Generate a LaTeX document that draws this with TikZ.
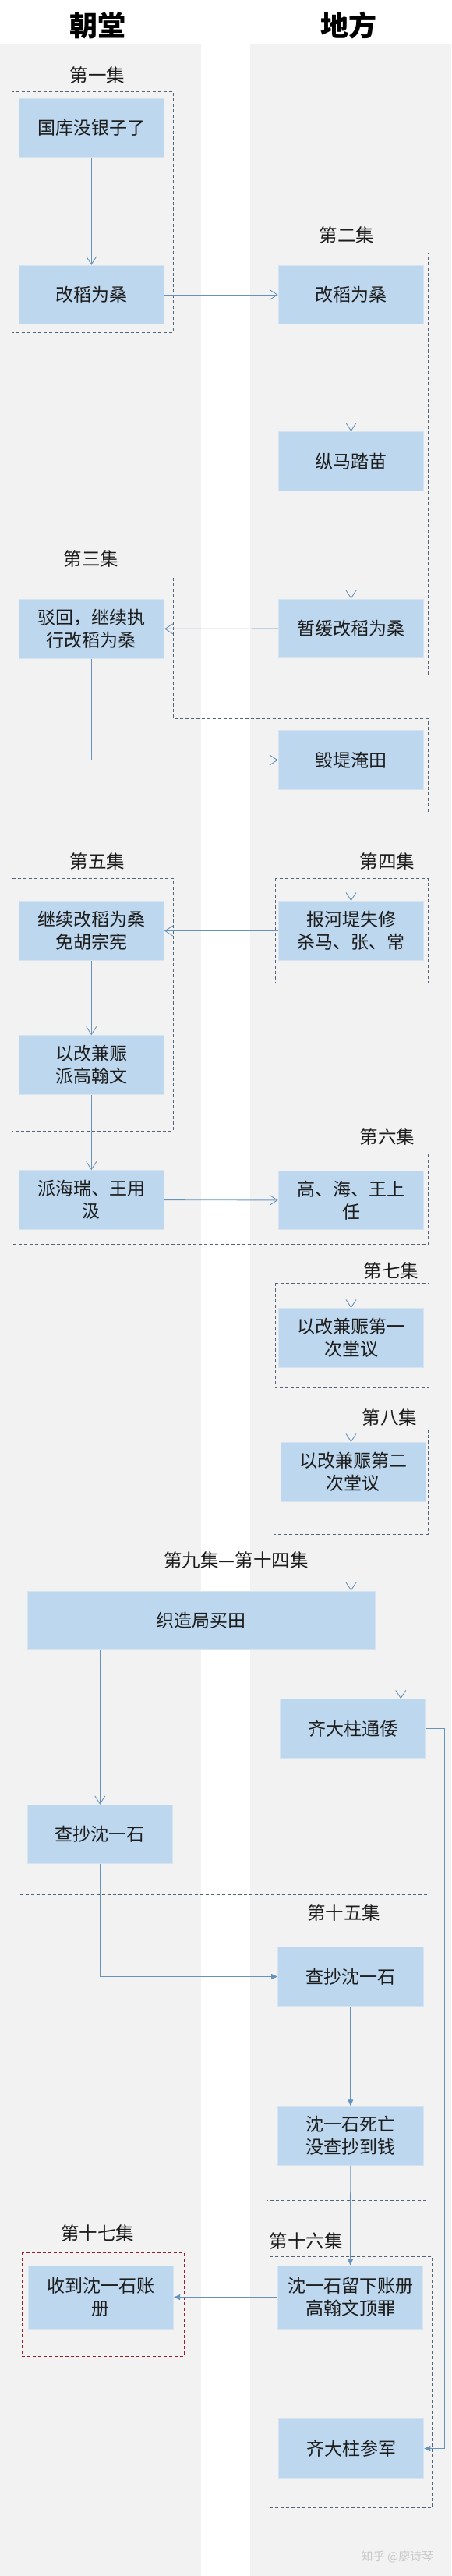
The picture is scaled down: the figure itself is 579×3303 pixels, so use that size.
\documentclass[tikz,border=0pt]{standalone}
\usepackage{fontspec}
\newfontfamily\cjk{Noto Sans CJK SC}
\usetikzlibrary{arrows.meta}
\definecolor{band}{RGB}{242,242,242}
\definecolor{boxfill}{RGB}{189,215,238}
\definecolor{boxedge}{RGB}{214,228,242}
\definecolor{link}{RGB}{102,146,190}
\definecolor{frame}{RGB}{84,100,118}
\definecolor{redframe}{RGB}{150,30,45}
\definecolor{ink}{RGB}{28,28,28}
\tikzset{
  stepbox/.style={fill=boxfill, draw=boxedge, line width=1pt, inner sep=0pt,
    minimum width=186.5pt, minimum height=75.5pt, align=center, text=ink,
    font=\cjk\fontsize{23}{29}\selectfont},
  eplabel/.style={text=ink, inner sep=0pt, font=\cjk\fontsize{23.5}{28}\selectfont},
  coltitle/.style={text=black, inner sep=0pt, font=\cjk\bfseries\fontsize{36}{40}\selectfont},
  grp/.style={draw=frame, line width=0.9pt, dash pattern=on 4pt off 3pt},
  redgrp/.style={draw=redframe, line width=0.9pt, dash pattern=on 4pt off 3pt},
  arr/.style={draw=link, line width=0.9pt, -{Straight Barb[length=10pt,width=13pt]}},
  farr/.style={draw=link, line width=0.9pt, -{Triangle[length=8pt,width=7pt]}},
}
\begin{document}
\begin{tikzpicture}[x=1pt,y=-1pt]
\useasboundingbox (0,0) rectangle (579,3303);
\fill[white] (0,0) rectangle (579,3303);
\fill[band] (0,56) rectangle (258,3303);
\fill[band] (321,56) rectangle (579,3303);

% titles
\node[coltitle] (t1) at (125,33) {朝堂};
\node[coltitle] (t2) at (447,33) {地方};

% group frames
\draw[grp] (15,117) rectangle (222,426);
\draw[grp] (342,324) rectangle (549.5,865);
\draw[grp] (15,738) -- (222,738) -- (222,921) -- (549.5,921) -- (549.5,1042) -- (15,1042) -- cycle;
\draw[grp] (353,1126) rectangle (549.5,1260);
\draw[grp] (15,1126) rectangle (222,1450);
\draw[grp] (15,1478) rectangle (549.5,1595);
\draw[grp] (353,1645) rectangle (550,1779);
\draw[grp] (351,1833) rectangle (549,1967);
\draw[grp] (24.7,2024) rectangle (550,2429);
\draw[grp] (342,2469) rectangle (550,2821);
\draw[grp] (346,2893) rectangle (554.7,3215);
\draw[redgrp] (28.4,2888) rectangle (236,3021);

% episode labels
\node[eplabel] (l1) at (125,97) {第一集};
\node[eplabel] (l2) at (445,302) {第二集};
\node[eplabel] (l3) at (117,717) {第三集};
\node[eplabel] (l4) at (497,1105) {第四集};
\node[eplabel] (l5) at (125,1105) {第五集};
\node[eplabel] (l6) at (497,1458) {第六集};
\node[eplabel] (l7) at (502,1630) {第七集};
\node[eplabel] (l8) at (500,1817) {第八集};
\node[eplabel] (l9) at (303,2000) {第九集—第十四集};
\node[eplabel] (l15) at (441,2452) {第十五集};
\node[eplabel] (l16) at (392.5,2873) {第十六集};
\node[eplabel] (l17) at (125,2863) {第十七集};

% nodes
\node[stepbox] (n1) at (117.25,164) {国库没银子了};
\node[stepbox] (n2) at (117.25,378) {改稻为桑};
\node[stepbox] (n3) at (450.5,378) {改稻为桑};
\node[stepbox] (n4) at (450.5,591.5) {纵马踏苗};
\node[stepbox] (n5) at (450.5,806) {暂缓改稻为桑};
\node[stepbox] (n6) at (117.25,806.5) {驳回，继续执\\行改稻为桑};
\node[stepbox] (n7) at (450.5,974.5) {毁堤淹田};
\node[stepbox] (n8) at (450.5,1193.5) {报河堤失修\\杀马、张、常};
\node[stepbox] (n9) at (117.25,1193.5) {继续改稻为桑\\免胡宗宪};
\node[stepbox] (n10) at (117.25,1365.5) {以改兼赈\\派高翰文};
\node[stepbox] (n11) at (117.25,1538.5) {派海瑞、王用\\汲};
\node[stepbox] (n12) at (450.5,1539) {高、海、王上\\任};
\node[stepbox] (n13) at (450.5,1715.5) {以改兼赈第一\\次堂议};
\node[stepbox] (n14) at (453.25,1887.5) {以改兼赈第二\\次堂议};
\node[stepbox, minimum width=446pt] (n15) at (258,2078) {织造局买田};
\node[stepbox] (n16) at (452.5,2216.5) {齐大柱通倭};
\node[stepbox] (n17) at (128.3,2352) {查抄沈一石};
\node[stepbox] (n18) at (449.8,2534.5) {查抄沈一石};
\node[stepbox] (n19) at (449.8,2738.5) {沈一石死亡\\没查抄到钱};
\node[stepbox, minimum height=81pt] (n20) at (449.5,2945.5) {沈一石留下账册\\高翰文顶罪};
\node[stepbox, minimum height=81pt] (n21) at (129.35,2945.5) {收到沈一石账\\册};
\node[stepbox] (n22) at (450.5,3139.5) {齐大柱参军};

% connectors
\draw[arr] (n1) -- (n2);
\draw[arr] (n2) -- (n3);
\draw[arr] (n3) -- (n4);
\draw[arr] (n4) -- (n5);
\draw[arr] (n5) -- (n6);
\draw[arr] (n6.south) |- (n7.west);
\draw[arr] (n7) -- (n8);
\draw[arr] (n8) -- (n9);
\draw[arr] (n9) -- (n10);
\draw[arr] (n10) -- (n11);
\draw[arr] (n11) -- (n12);
\draw[arr] (n12) -- (n13);
\draw[arr] (n13.south) -- (n13.south |- n14.north);
\draw[arr] (n13.south |- n14.south) -- (n13.south |- n15.north);
\draw[arr] ([xshift=61pt]n14.south) -- ([xshift=61pt]n14.south |- n16.north);
\draw[arr] (n17.north |- n15.south) -- (n17.north);
\draw[farr] (n17.south) |- (n18.west);
\draw[farr] (n18) -- (n19);
\draw[farr] (n19) -- (n20);
\draw[farr] (n20) -- (n21);
\coordinate (rail) at (570.5,2700);
\draw[farr] (n16.east) -| (rail) |- (n22.east);

% watermark
\node[text={rgb,255:red,200;green,200;blue,200}, inner sep=0pt, font=\cjk\fontsize{15}{18}\selectfont] (wm) at (510,3278) {知乎 @廖诗琴};
\end{tikzpicture}
\end{document}
